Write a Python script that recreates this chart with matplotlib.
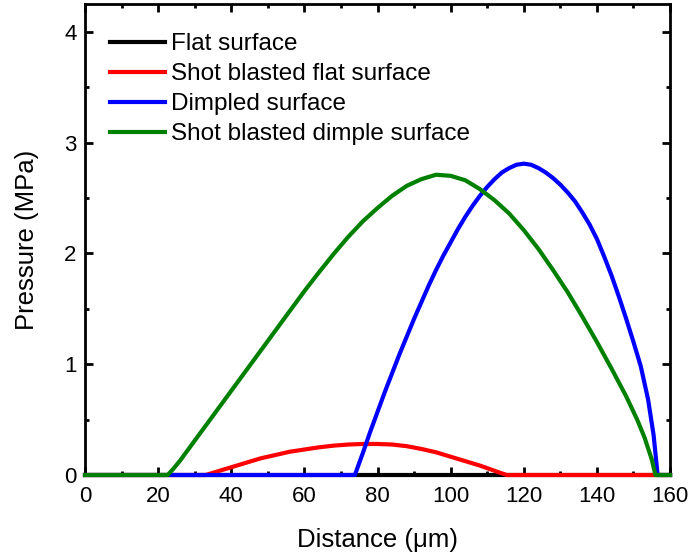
import numpy as np
import matplotlib.pyplot as plt
from matplotlib.ticker import MultipleLocator

plt.rcParams['font.family'] = ['Liberation Sans', 'DejaVu Sans']

#------------------------------------------------------------------------------
# data (distance in um, pressure in MPa)
#------------------------------------------------------------------------------

flat_x = [0, 160]
flat_p = [0, 0]

sbflat_x = [0, 33, 36, 40, 44, 48, 52, 56, 60, 64, 68, 72, 76, 80, 84, 88, 92, 96,
            100, 104, 108, 111, 113.5, 115.4, 160]
sbflat_p = [0, 0, 0.03, 0.07, 0.11, 0.15, 0.18, 0.21, 0.23, 0.25, 0.265, 0.275, 0.28, 0.28,
            0.275, 0.26, 0.235, 0.205, 0.165, 0.125, 0.085, 0.05, 0.02, 0, 0]

dimple_x = [0, 73.8, 76, 78, 80, 82, 84, 86, 88, 90, 92, 94, 96, 98, 100, 102, 104, 106,
            108, 110, 112, 114, 116, 118, 120, 122, 124, 126, 128, 130, 132, 134, 136,
            138, 140, 142, 144, 146, 148, 150, 152, 154, 155.5, 156.6, 160]
dimple_p = [0, 0, 0.20, 0.39, 0.57, 0.75, 0.92, 1.09, 1.25, 1.41, 1.56, 1.71, 1.85, 1.98,
            2.10, 2.22, 2.33, 2.43, 2.52, 2.60, 2.67, 2.73, 2.77, 2.80, 2.81, 2.80, 2.77,
            2.73, 2.68, 2.62, 2.55, 2.47, 2.37, 2.26, 2.13, 1.97, 1.80, 1.61, 1.41, 1.20,
            0.98, 0.68, 0.36, 0, 0]

sbdimple_x = [0, 22.6, 24, 26, 28, 30, 33, 36, 40, 44, 48, 52, 56, 60, 64, 68, 72, 76, 80,
              84, 88, 92, 96, 100, 104, 108, 112, 116, 120, 124, 128, 132, 136, 140, 144,
              148, 151, 153, 155, 156, 160]
sbdimple_p = [0, 0, 0.05, 0.13, 0.22, 0.31, 0.445, 0.58, 0.76, 0.94, 1.12, 1.30, 1.48, 1.66,
              1.83, 1.995, 2.15, 2.29, 2.41, 2.52, 2.61, 2.67, 2.71, 2.70, 2.66, 2.58, 2.48,
              2.36, 2.21, 2.04, 1.85, 1.65, 1.43, 1.20, 0.96, 0.71, 0.50, 0.34, 0.14, 0, 0]

labels = ['Flat surface', 'Shot blasted flat surface', 'Dimpled surface', 'Shot blasted dimple surface']
colors = ['black', 'red', 'blue', 'green']

#------------------------------------------------------------------------------

fig = plt.figure(figsize=(6.94, 5.54), dpi=100)
ax = fig.add_axes([0.1225, 0.1426, 0.843, 0.85])

series = [(flat_x, flat_p), (sbflat_x, sbflat_p), (dimple_x, dimple_p), (sbdimple_x, sbdimple_p)]
for (xx, pp), lab, col in zip(series, labels, colors):
    ax.plot(xx, pp, color=col, linewidth=3, label=lab, clip_on=False, zorder=3,
            solid_joinstyle='round')

ax.set_xlim(0, 160)
ax.set_ylim(0, 4.25)
ax.xaxis.set_major_locator(MultipleLocator(20))
ax.xaxis.set_minor_locator(MultipleLocator(10))
ax.yaxis.set_major_locator(MultipleLocator(1))
ax.yaxis.set_minor_locator(MultipleLocator(0.5))
ax.tick_params(which='both', direction='in', top=True, right=True, width=2, labelsize=16)
ax.tick_params(which='major', length=6)
ax.tick_params(which='minor', length=3)
ax.tick_params(axis='x', pad=8)
ax.tick_params(axis='y', pad=6)
for sp in ax.spines.values():
    sp.set_linewidth(2)

ax.set_xlabel('Distance (μm)', fontsize=18.5, labelpad=15)
ax.set_ylabel('Pressure (MPa)', fontsize=18.5, labelpad=18)

ax.legend(loc='upper left', bbox_to_anchor=(-0.007, 1.0), frameon=False, fontsize=17.5,
          handlelength=2.25, handletextpad=0.25, labelspacing=0.33, borderaxespad=0.8)

fig.savefig('out.png', dpi=100)
